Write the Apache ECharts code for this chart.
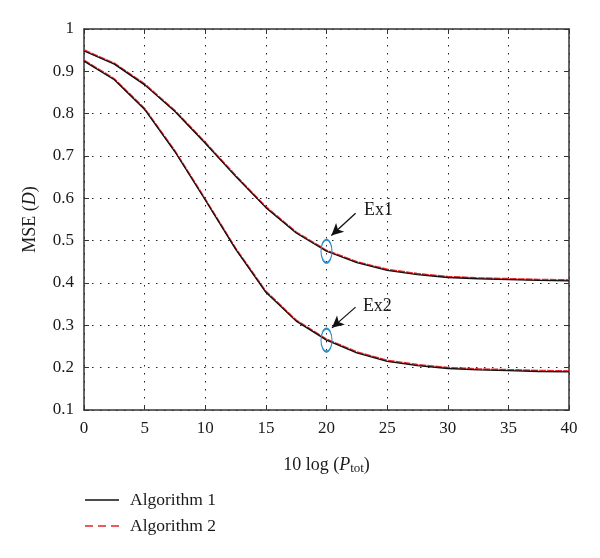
<!DOCTYPE html>
<html>
<head>
<meta charset="utf-8">
<script src="https://cdn.jsdelivr.net/npm/echarts@6/dist/echarts.min.js"></script>
<style>html,body{margin:0;padding:0;background:#fff}#c{width:600px;height:558px}</style>
</head>
<body>
<div id="c"></div>
<script>
var xValues = [0, 2.5, 5, 7.5, 10, 12.5, 15, 17.5, 20, 22.5, 25, 27.5, 30, 32.5, 35, 37.5, 40];
var ex1Alg1 = [0.948, 0.917, 0.868, 0.805, 0.73, 0.652, 0.578, 0.518, 0.475, 0.448, 0.43, 0.42, 0.413, 0.41, 0.408, 0.406, 0.405];
var ex1Alg2 = [0.950, 0.919, 0.870, 0.807, 0.732, 0.654, 0.580, 0.520, 0.477, 0.450, 0.432, 0.422, 0.415, 0.412, 0.410, 0.408, 0.407];
var ex2Alg1 = [0.924, 0.88, 0.81, 0.71, 0.596, 0.48, 0.378, 0.31, 0.265, 0.235, 0.215, 0.205, 0.198, 0.195, 0.193, 0.191, 0.19];
var ex2Alg2 = [0.926, 0.882, 0.812, 0.712, 0.598, 0.482, 0.380, 0.312, 0.267, 0.237, 0.217, 0.207, 0.200, 0.197, 0.195, 0.193, 0.192];
var ellipsePts = [[20, 0.475], [20, 0.265]];
var arrows = [[[22.4, 0.565], [20.4, 0.512]], [[22.4, 0.343], [20.45, 0.294]]];
var exLabels = [[23.1, 0.572, 'Ex1'], [23.0, 0.345, 'Ex2']];
var seriesNames = ['Algorithm 1', 'Algorithm 2'];

function pairs(xs, ys) { return xs.map(function (x, i) { return [x, ys[i]]; }); }

var FONT = 'Liberation Serif';
var AX = '#333';
var TXT = '#1a1a1a';
var RED = '#e3262d';
var chart = echarts.init(document.getElementById('c'), null, { renderer: 'canvas' });
var xCommon = { type: 'value', min: 0, max: 40, interval: 5 };
var yCommon = { type: 'value', min: 0.1, max: 1, interval: 0.1 };
var gridLine = { show: true, lineStyle: { color: '#222', type: [1.5, 6.5], width: 1 } };
var option = {
  animation: false,
  backgroundColor: '#fff',
  grid: { left: 84, top: 29, width: 485, height: 381, containLabel: false },
  legend: {
    orient: 'vertical', left: 80, top: 486, itemWidth: 34, itemHeight: 2, itemGap: 8,
    data: [
      { name: seriesNames[0], icon: 'path://M0,0h34v1.4h-34z' },
      { name: seriesNames[1], icon: 'path://M0,0h8v1.4h-8z M13,0h8v1.4h-8z M26,0h8v1.4h-8z' }
    ],
    textStyle: { fontFamily: FONT, fontSize: 17.5, color: TXT, padding: [0, 0, 0, 6], lineHeight: 17 }
  },
  xAxis: [
    Object.assign({}, xCommon, {
      position: 'bottom',
      name: '{n|10 log (}{i|P}{s|tot}{n|)}',
      nameLocation: 'middle', nameGap: 46,
      nameTextStyle: { rich: {
        n: { fontFamily: FONT, fontSize: 18, color: TXT },
        i: { fontFamily: FONT, fontSize: 18, fontStyle: 'italic', color: TXT },
        s: { fontFamily: FONT, fontSize: 13, color: TXT, verticalAlign: 'bottom', padding: [6, 0, 0, 0] }
      } },
      axisLine: { show: true, onZero: false, lineStyle: { color: AX, width: 1.5 } },
      axisTick: { show: true, inside: true, length: 5, lineStyle: { color: AX } },
      axisLabel: { fontFamily: FONT, fontSize: 17, color: TXT, margin: 10 },
      splitLine: gridLine
    }),
    Object.assign({}, xCommon, {
      position: 'top',
      axisLine: { show: true, onZero: false, lineStyle: { color: AX, width: 1.5 } },
      axisTick: { show: true, inside: true, length: 5, lineStyle: { color: AX } },
      axisLabel: { show: false }, splitLine: { show: false }
    })
  ],
  yAxis: [
    Object.assign({}, yCommon, {
      position: 'left',
      name: '{n|MSE (}{i|D}{n|)}',
      nameLocation: 'middle', nameGap: 45, nameRotate: 90,
      nameTextStyle: { rich: {
        n: { fontFamily: FONT, fontSize: 18, color: TXT },
        i: { fontFamily: FONT, fontSize: 18, fontStyle: 'italic', color: TXT }
      } },
      axisLine: { show: true, onZero: false, lineStyle: { color: AX, width: 1.5 } },
      axisTick: { show: true, inside: true, length: 5, lineStyle: { color: AX } },
      axisLabel: { fontFamily: FONT, fontSize: 17, color: TXT, margin: 10 },
      splitLine: gridLine
    }),
    Object.assign({}, yCommon, {
      position: 'right',
      axisLine: { show: true, onZero: false, lineStyle: { color: AX, width: 1.5 } },
      axisTick: { show: true, inside: true, length: 5, lineStyle: { color: AX } },
      axisLabel: { show: false }, splitLine: { show: false }
    })
  ],
  series: [
    { name: 'Algorithm 2', type: 'line', symbol: 'none', data: pairs(xValues, ex1Alg2),
      lineStyle: { color: RED, width: 1.8, type: [7, 1] }, itemStyle: { color: RED }, z: 3 },
    { name: 'Algorithm 2', type: 'line', symbol: 'none', data: pairs(xValues, ex2Alg2),
      lineStyle: { color: RED, width: 1.8, type: [7, 1] }, itemStyle: { color: RED }, z: 3 },
    { name: 'Algorithm 1', type: 'line', symbol: 'none', data: pairs(xValues, ex1Alg1),
      lineStyle: { color: '#111', width: 1.3 }, itemStyle: { color: '#111' }, z: 4 },
    { name: 'Algorithm 1', type: 'line', symbol: 'none', data: pairs(xValues, ex2Alg1),
      lineStyle: { color: '#111', width: 1.3 }, itemStyle: { color: '#111' }, z: 4 },
    { name: 'ellipses', type: 'scatter', data: ellipsePts, symbol: 'circle', symbolSize: [11, 23],
      itemStyle: { color: 'rgba(0,0,0,0)', opacity: 1, borderColor: '#2b8ccc', borderWidth: 1.5 }, z: 5, silent: true },
    { name: 'arrows', type: 'line', data: [], silent: true,
      markLine: { silent: true, symbol: ['none', 'arrow'], symbolSize: [9, 12],
        lineStyle: { color: '#111', width: 1.3, type: 'solid' }, label: { show: false },
        data: arrows.map(function (a) { return [{ coord: a[0] }, { coord: a[1] }]; }) } },
    { name: 'labels', type: 'scatter', symbolSize: 0, silent: true, itemStyle: { opacity: 1 },
      data: exLabels.map(function (l) { return { value: [l[0], l[1]], label: { formatter: l[2] } }; }),
      label: { show: true, position: 'right', distance: 0, fontFamily: FONT, fontSize: 18, color: TXT } }
  ]
};
chart.setOption(option);
</script>
</body>
</html>
